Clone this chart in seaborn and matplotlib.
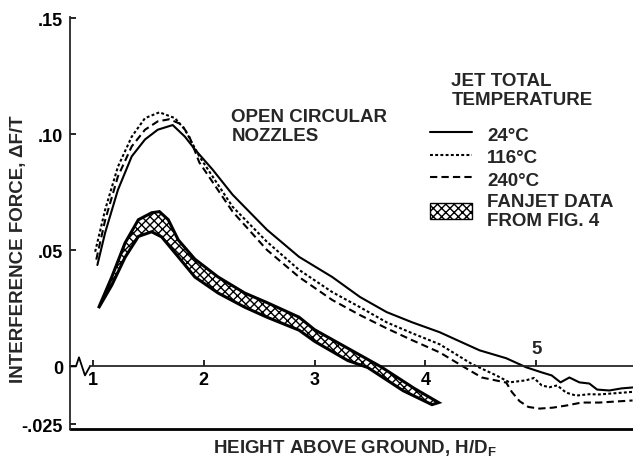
import numpy as np
import pandas as pd
import matplotlib
matplotlib.use("Agg")
import matplotlib.pyplot as plt
from matplotlib.lines import Line2D
from matplotlib.patches import Patch
import seaborn as sns

sns.set_style("ticks")
plt.rcParams["font.family"] = ["Liberation Sans", "DejaVu Sans"]
plt.rcParams["font.weight"] = "bold"
plt.rcParams["mathtext.fontset"] = "custom"
plt.rcParams["mathtext.bf"] = "Liberation Sans:bold"
plt.rcParams["mathtext.rm"] = "Liberation Sans:bold"
plt.rcParams["hatch.linewidth"] = 1.0

# jet total temperature curves
x_24 = [1.04, 1.11, 1.225, 1.35, 1.47, 1.585, 1.72, 1.83, 1.92, 2.08, 2.26, 2.57,
        2.86, 3.16, 3.41, 3.65, 3.88, 4.13, 4.30, 4.49, 4.73, 4.91, 5.05, 5.14,
        5.22, 5.30, 5.39, 5.48, 5.55, 5.66, 5.77, 5.87]
y_24 = [.0437, .0576, .076, .0905, .0978, .102, .104, .099, .0935, .0848, .074,
        .0589, .0472, .0385, .0299, .0234, .019, .0147, .0110, .0069, .0035,
        -.0004, -.0026, -.0039, -.0069, -.0048, -.0069, -.0074, -.0100, -.0104,
        -.0095, -.0091]

x_116 = [1.02, 1.11, 1.225, 1.35, 1.47, 1.60, 1.74, 1.83, 1.96, 2.26, 2.57, 2.86,
         3.16, 3.41, 3.65, 3.88, 4.13, 4.42, 4.64, 4.76, 4.91, 4.98, 5.05, 5.12,
         5.19, 5.27, 5.36, 5.48, 5.57, 5.87]
y_116 = [.0494, .0675, .086, .099, .107, .1095, .107, .102, .0905, .0688, .0537,
         .0416, .032, .0255, .019, .0143, .0095, .0010, -.0039, -.0069, -.0060,
         -.0050, -.0082, -.0090, -.0082, -.0113, -.0126, -.0120, -.0121, -.0110]

x_240 = [1.03, 1.11, 1.225, 1.35, 1.47, 1.585, 1.69, 1.80, 1.87, 1.96, 2.26, 2.57,
         2.86, 3.16, 3.41, 3.65, 3.88, 4.13, 4.37, 4.51, 4.73, 4.78, 4.85, 4.93,
         5.03, 5.15, 5.27, 5.41, 5.57, 5.87]
y_240 = [.046, .063, .0818, .0948, .102, .1056, .1065, .1043, .099, .0879, .0667,
         .0502, .0385, .0286, .0221, .0164, .0113, .006, -.0009, -.0048, -.0070,
         -.0110, -.0150, -.0175, -.0182, -.0178, -.0169, -.0156, -.0156, -.0147]

# fanjet data band (upper / lower edge)
fan_x_hi = [1.05, 1.17, 1.29, 1.41, 1.53, 1.60, 1.68, 1.77, 1.92, 2.13, 2.37, 2.57,
            2.86, 3.0, 3.3, 3.6, 3.9, 4.12]
fan_y_hi = [.0251, .0385, .0532, .0632, .0662, .0667, .0632, .0545, .0462, .0385,
            .0316, .0275, .0212, .0158, .0078, -.0002, -.0095, -.0156]
fan_x_lo = [1.05, 1.17, 1.29, 1.41, 1.53, 1.62, 1.77, 1.92, 2.13, 2.37, 2.57, 2.86,
            3.0, 3.3, 3.48, 3.8, 4.06]
fan_y_lo = [.0251, .0350, .0470, .0560, .058, .0558, .0472, .0385, .0316, .0255,
            .0212, .0156, .0108, .0025, -.0005, -.0105, -.0165]

temps = ["24°C", "116°C", "240°C"]
dash_styles = {"24°C": "", "116°C": (1.4, 1.1), "240°C": (3.5, 2.0)}

x_ticks = [1, 2, 3, 4, 5]
y_ticks = [-.025, 0, .05, .10, .15]
y_ticklabels = ["-.025", "0", ".05", ".10", ".15"]

XMIN, XMAX = 0.793, 5.874
YMIN, YMAX = -0.027, 0.1506
FS = 13.5

df = pd.concat([
    pd.DataFrame({"H": x_24, "F": y_24, "temp": "24°C"}),
    pd.DataFrame({"H": x_116, "F": y_116, "temp": "116°C"}),
    pd.DataFrame({"H": x_240, "F": y_240, "temp": "240°C"}),
])

fig, ax = plt.subplots(figsize=(6.33, 4.6), dpi=100)
fig.subplots_adjust(left=0.1106, right=1.0, bottom=0.0652, top=0.961)

sns.lineplot(data=df, x="H", y="F", style="temp", style_order=temps,
             dashes=dash_styles, color="black", linewidth=1.5, sort=False,
             estimator=None, legend=False, ax=ax)

band_x = np.concatenate([fan_x_hi, fan_x_lo[::-1]])
band_y = np.concatenate([fan_y_hi, fan_y_lo[::-1]])
ax.fill(band_x, band_y, facecolor="white", edgecolor="black", hatch="xxxx",
        linewidth=2.2, zorder=3)

ax.set_xlim(XMIN, XMAX)
ax.set_ylim(YMIN, YMAX)

# x axis drawn along zero, with a break near the origin
ax.spines["bottom"].set_position(("data", 0))
ax.spines["bottom"].set_bounds(0.973, XMAX)
ax.spines["bottom"].set_linewidth(1.3)
ax.spines["left"].set_linewidth(1.3)
sns.despine(ax=ax, top=True, right=True)
ax.plot([XMIN, 0.847, 0.874, 0.928, 0.973], [0, 0, 0.0039, -0.0039, 0],
        color="black", lw=1.3, clip_on=False)
ax.axhline(YMIN, color="black", lw=2.0, clip_on=False)

ax.set_xticks(x_ticks)
ax.set_xticklabels(["1", "2", "3", "4", ""])
ax.text(5, 0.0078, "5", ha="center", va="center", fontsize=FS, fontweight="bold")
ax.set_yticks(y_ticks)
ax.set_yticklabels(y_ticklabels)
ax.tick_params(axis="both", direction="in", length=4, width=1.2,
               labelsize=13, pad=5, colors="black")
ax.tick_params(axis="x", pad=3)

ax.set_ylabel("INTERFERENCE FORCE, ΔF/T", fontsize=FS, fontweight="bold")
ax.yaxis.set_label_coords(-0.077, 0.44)
ax.set_xlabel(r"HEIGHT ABOVE GROUND, H/D$_\mathbf{F}$", fontsize=FS,
              fontweight="bold")
ax.xaxis.set_label_coords(0.506, -0.022)

ax.text(2.25, 0.1115, "OPEN CIRCULAR\nNOZZLES", ha="left", va="top",
        fontsize=FS, fontweight="bold", linespacing=1.2)

handles = [Line2D([], [], color="black", lw=1.5, dashes=dash_styles[t]) if dash_styles[t]
           else Line2D([], [], color="black", lw=1.5) for t in temps]
handles.append(Patch(facecolor="white", edgecolor="black", hatch="xxxx", lw=1.0))
labels = temps + ["FANJET DATA\nFROM FIG. 4"]
leg = ax.legend(handles, labels, title="JET TOTAL\nTEMPERATURE", loc="upper left",
                bbox_to_anchor=(0.623, 0.89), frameon=False, borderpad=0,
                handlelength=2.25, handleheight=1.0, handletextpad=0.8,
                labelspacing=0.2,
                prop={"weight": "bold", "size": FS},
                title_fontproperties={"weight": "bold", "size": FS})
leg._legend_box.sep = 12

fig.savefig("out.png", dpi=100)
